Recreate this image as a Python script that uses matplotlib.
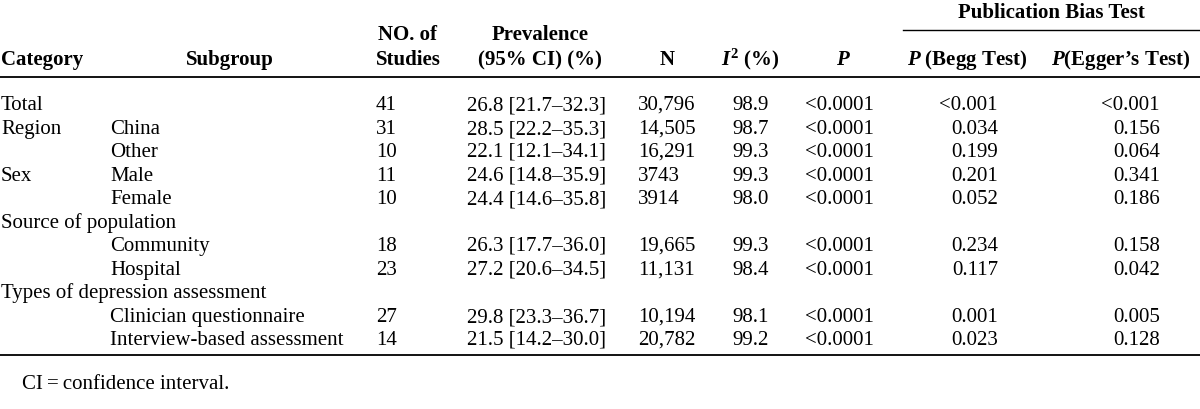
import matplotlib
matplotlib.use('Agg')
import matplotlib.pyplot as plt

# table content
categories = ['Total', 'Region', '', 'Sex', '', 'Source of population', '', '',
              'Types of depression assessment', '', '']
subgroups = ['', 'China', 'Other', 'Male', 'Female', '', 'Community', 'Hospital',
             '', 'Clinician questionnaire', 'Interview-based assessment']
n_studies = ['41', '31', '10', '11', '10', '', '18', '23', '', '27', '14']
prevalence = ['26.8 [21.7\u201332.3]', '28.5 [22.2\u201335.3]', '22.1 [12.1\u201334.1]',
              '24.6 [14.8\u201335.9]', '24.4 [14.6\u201335.8]', '',
              '26.3 [17.7\u201336.0]', '27.2 [20.6\u201334.5]', '',
              '29.8 [23.3\u201336.7]', '21.5 [14.2\u201330.0]']
n_total = ['30,796', '14,505', '16,291', '3743', '3914', '', '19,665', '11,131',
           '', '10,194', '20,782']
i2 = ['98.9', '98.7', '99.3', '99.3', '98.0', '', '99.3', '98.4', '', '98.1', '99.2']
p_val = ['<0.0001'] * 5 + [''] + ['<0.0001'] * 2 + [''] + ['<0.0001'] * 2
p_begg = ['<0.001', '0.034', '0.199', '0.201', '0.052', '', '0.234', '0.117', '',
          '0.001', '0.023']
p_egger = ['<0.001', '0.156', '0.064', '0.341', '0.186', '', '0.158', '0.042', '',
           '0.005', '0.128']

plt.rcParams['font.family'] = 'Liberation Serif'
plt.rcParams['mathtext.fontset'] = 'custom'
plt.rcParams['mathtext.rm'] = 'Liberation Serif:bold'
plt.rcParams['mathtext.it'] = 'Liberation Serif:italic:bold'

fs = 15
fig = plt.figure(figsize=(12, 4.09), dpi=100)
ax = fig.add_axes([0, 0, 1, 1])
ax.set_xlim(0, 1200)
ax.set_ylim(409, 0)
ax.axis('off')

# header (baseline positions)
hy1, hy2 = 40, 65
hd = dict(fontsize=fs, fontweight='bold', va='baseline')
ax.text(1051, 18, 'Publication Bias Test', ha='center', **hd)
ax.plot([903, 1200], [30, 30], color='black', lw=1.0)
ax.text(1, hy2, 'Category', ha='left', **hd)
ax.text(230, hy2, 'Subgroup', ha='center', **hd)
ax.text(408, hy1, 'NO. of', ha='center', **hd)
ax.text(408, hy2, 'Studies', ha='center', **hd)
ax.text(540, hy1, 'Prevalence', ha='center', **hd)
ax.text(540, hy2, '(95% CI) (%)', ha='center', **hd)
ax.text(667, hy2, 'N', ha='center', **hd)
ax.text(750, hy2, r'$\mathit{I}^2$ (%)', ha='center', **hd)
ax.text(843, hy2, r'$\mathit{P}$', ha='center', **hd)
ax.text(967, hy2, r'$\mathit{P}$ (Begg Test)', ha='center', **hd)
ax.text(1121, hy2, r'$\mathit{P}$(Egger' + '\u2019s Test)', ha='center', **hd)
ax.plot([0, 1200], [77, 77], color='black', lw=1.3)

# rows (integer baselines so glyphs don't jitter)
y0, dy = 110, 23.5
rd = dict(fontsize=fs, va='baseline')
for i in range(len(categories)):
    y = y0 + int(i * dy + 0.5)
    ax.text(1, y, categories[i], ha='left', **rd)
    ax.text(110, y, subgroups[i], ha='left', **rd)
    ax.text(376, y, n_studies[i], ha='left', **rd)
    ax.text(467, y, prevalence[i], ha='left', **rd)
    ax.text(638, y, n_total[i], ha='left', **rd)
    ax.text(732, y, i2[i], ha='left', **rd)
    ax.text(805, y, p_val[i], ha='left', **rd)
    ax.text(998, y, p_begg[i], ha='right', **rd)
    ax.text(1160, y, p_egger[i], ha='right', **rd)

ax.plot([0, 1200], [355, 355], color='black', lw=1.3)
ax.text(22, 389, 'CI\u2009=\u2009confidence interval.', ha='left', **rd)

fig.savefig('out.png', dpi=100)
